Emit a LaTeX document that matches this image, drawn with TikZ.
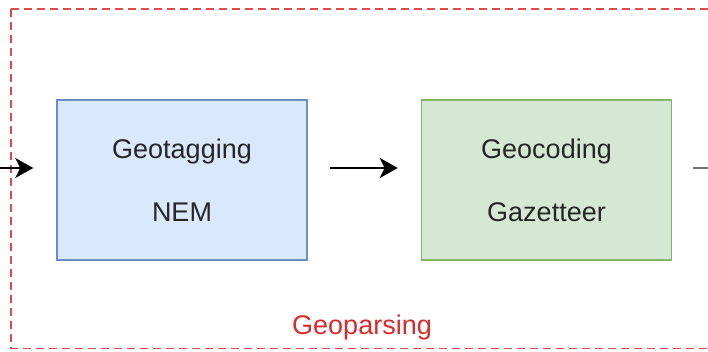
\documentclass[tikz,border=0pt]{standalone}
\usepackage{fontspec}
\setmainfont{Liberation Sans}
\usepackage{tikz}
\usetikzlibrary{positioning,arrows.meta}
\definecolor{tagfill}{HTML}{DAE8FC}
\definecolor{tagline}{HTML}{6C8EBF}
\definecolor{codefill}{HTML}{D5E8D4}
\definecolor{codeline}{HTML}{82B366}
\definecolor{parsered}{HTML}{D92B2B}
\tikzset{stage/.style={
        draw,
        rectangle,
        minimum height=160pt,
        minimum width=250pt,
        line width=1.5pt,
        align=center,
        font=\fontsize{27}{63}\selectfont,
        text=black!85 } }
\tikzset{flow/.style={
        line width=2pt,
        -{Stealth[length=18pt,width=20pt,inset=5pt]} } }

\begin{document}
\begin{tikzpicture}[x=1pt,y=1pt]
\useasboundingbox (0,0) rectangle (708,351);

% dashed frame
\draw[parsered!85, line width=1.6pt, dash pattern=on 8pt off 5pt]
(11,342) -- (716,342)
(11,342) -- (11,2.5) -- (716,2.5);
\node[text=parsered, font=\fontsize{27}{30}\selectfont] (parse_label) at (362,23) {Geoparsing};

\node[stage, fill=tagfill, draw=tagline] (geo_tag) at (182,171)
{Geotagging\\NEM};

\node[stage, fill=codefill, draw=codeline] (geo_code)
[right=113pt of geo_tag]
{Geocoding\\Gazetteer};

\coordinate (in_end) at (0,183);
\coordinate (out_end) at (710,183);

\path[flow]
(in_end) edge [shorten >=23pt] ([yshift=12pt]geo_tag.west)
([yshift=12pt]geo_tag.east) edge [shorten <=22pt, shorten >=23pt] ([yshift=12pt]geo_code.west);
\draw[line width=2pt, black!55, shorten <=21pt] ([yshift=12pt]geo_code.east) -- (out_end);

\end{tikzpicture}
\end{document}
